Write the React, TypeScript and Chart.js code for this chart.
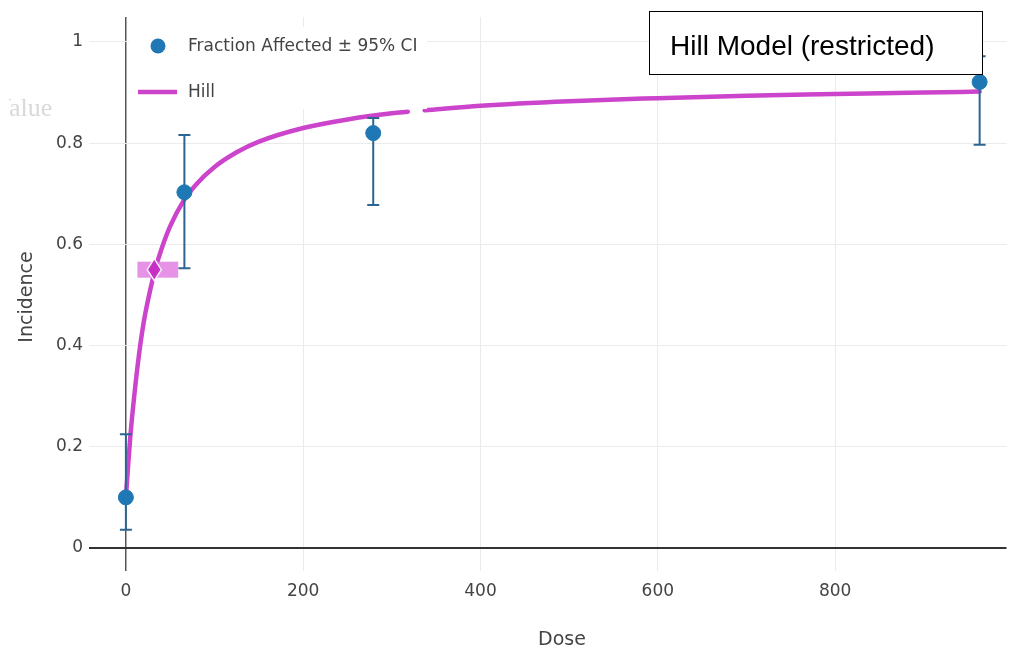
import React, { useEffect, useRef } from "react";
import { Chart, registerables } from "chart.js";

Chart.register(...registerables);

// Observed data (fraction affected ± 95% CI)
const obsDose = [0, 66, 279, 963];
const obsFrac = [0.1, 0.703, 0.82, 0.921];
const obsLower = [0.036, 0.553, 0.678, 0.797];
const obsUpper = [0.225, 0.816, 0.85, 0.972];

// Hill model fit curve (null = visible gap)
const hillDose = [0, 2, 5, 10, 15, 20, 25, 33, 40, 50, 65, 80, 100, 125, 150, 200, 250, 300, 318, 327, 337, 400, 500, 600, 700, 800, 900, 963];
const hillFit = [0.1, 0.15, 0.22, 0.31, 0.385, 0.445, 0.49, 0.55, 0.59, 0.636, 0.686, 0.72, 0.753, 0.782, 0.803, 0.83, 0.847, 0.859, 0.862, null, 0.865, 0.874, 0.883, 0.889, 0.894, 0.897, 0.9, 0.902];

// Benchmark dose marker
const bmdDose = [32];
const bmdLowerDose = [13];
const bmdUpperDose = [59];
const bmdResponse = [0.55];

const xTicks = [0, 200, 400, 600, 800];
const xTickLabels = ["0", "200", "400", "600", "800"];
const yTicks = [0, 0.2, 0.4, 0.6, 0.8, 1];
const yTickLabels = ["0", "0.2", "0.4", "0.6", "0.8", "1"];

const legendLabels = ["Fraction Affected \u00b1 95% CI", "Hill"];
const titleText = "Hill Model (restricted)";
const xTitle = "Dose";
const yTitle = "Incidence";
const ghostText = "Value";

const BLUE = "#1f77b4";
const ERR = "#2c6592";
const MAGENTA = "#cc44cc";
const FONT = "'DejaVu Sans', Verdana, sans-serif";

const overlayPlugin = {
  id: "overlay",
  afterDatasetDraw(chart: any, args: any) {
    if (args.index !== 1) return;
    const xs = chart.scales.x;
    const ys = chart.scales.y;
    const ctx = chart.ctx;
    ctx.save();
    ctx.strokeStyle = ERR;
    ctx.lineWidth = 2;
    obsDose.forEach((d, i) => {
      const px = xs.getPixelForValue(d);
      const top = ys.getPixelForValue(obsUpper[i]);
      const bot = ys.getPixelForValue(obsLower[i]);
      ctx.beginPath();
      ctx.moveTo(px, top);
      ctx.lineTo(px, bot);
      ctx.moveTo(px - 6, top);
      ctx.lineTo(px + 6, top);
      ctx.moveTo(px - 6, bot);
      ctx.lineTo(px + 6, bot);
      ctx.stroke();
    });
    ctx.restore();
  },
  afterDatasetsDraw(chart: any) {
    const xs = chart.scales.x;
    const ys = chart.scales.y;
    const ctx = chart.ctx;
    ctx.save();
    bmdDose.forEach((d, i) => {
      const y = ys.getPixelForValue(bmdResponse[i]);
      const xl = xs.getPixelForValue(bmdLowerDose[i]);
      const xu = xs.getPixelForValue(bmdUpperDose[i]);
      const xc = xs.getPixelForValue(d);
      ctx.fillStyle = "rgba(222, 110, 222, 0.75)";
      ctx.fillRect(xl, y - 8, xu - xl, 16);
      ctx.beginPath();
      ctx.moveTo(xc, y - 11);
      ctx.lineTo(xc + 7, y);
      ctx.lineTo(xc, y + 11);
      ctx.lineTo(xc - 7, y);
      ctx.closePath();
      ctx.fillStyle = "#c630c6";
      ctx.fill();
      ctx.strokeStyle = "rgba(255,255,255,0.9)";
      ctx.lineWidth = 1.5;
      ctx.stroke();
    });
    ctx.restore();
  },
  afterDraw(chart: any) {
    const ctx = chart.ctx;
    const area = chart.chartArea;
    ctx.save();
    // ghost text at left edge (clipped)
    ctx.save();
    ctx.beginPath();
    ctx.rect(9, 80, 60, 50);
    ctx.clip();
    ctx.font = "26px 'Liberation Serif', serif";
    ctx.fillStyle = "#d9d9d9";
    ctx.textBaseline = "alphabetic";
    ctx.textAlign = "left";
    ctx.fillText(ghostText, -7, 116);
    ctx.restore();

    // legend
    ctx.fillStyle = "#ffffff";
    ctx.fillRect(area.left + 40, 27, 298, 82);
    ctx.beginPath();
    ctx.arc(158, 46, 7.5, 0, Math.PI * 2);
    ctx.fillStyle = BLUE;
    ctx.fill();
    ctx.strokeStyle = MAGENTA;
    ctx.lineWidth = 4.5;
    ctx.beginPath();
    ctx.moveTo(138, 92);
    ctx.lineTo(177, 92);
    ctx.stroke();
    ctx.fillStyle = "#444";
    ctx.font = "17px " + FONT;
    ctx.textBaseline = "middle";
    ctx.fillText(legendLabels[0], 188, 47);
    ctx.fillText(legendLabels[1], 188, 93);

    // axis titles
    ctx.font = "19px " + FONT;
    ctx.textAlign = "center";
    ctx.fillText(xTitle, 562, 640);
    ctx.save();
    ctx.translate(27, 297);
    ctx.rotate(-Math.PI / 2);
    ctx.fillText(yTitle, 0, 0);
    ctx.restore();

    // title box
    ctx.fillStyle = "#ffffff";
    ctx.fillRect(649.5, 11.5, 333, 63);
    ctx.strokeStyle = "#000";
    ctx.lineWidth = 1;
    ctx.strokeRect(649.5, 11.5, 333, 63);
    ctx.fillStyle = "#000";
    ctx.font = "28px 'Liberation Sans', Arial, sans-serif";
    ctx.textAlign = "left";
    ctx.textBaseline = "alphabetic";
    ctx.fillText(titleText, 670, 55);
    ctx.restore();
  },
};

export default function App() {
  const canvasRef = useRef<HTMLCanvasElement | null>(null);

  useEffect(() => {
    document.body.style.margin = "0";
    const canvas = canvasRef.current;
    if (!canvas) return;

    const hillData = hillDose.map((d, i) => ({ x: d, y: hillFit[i] }));
    const obsData = obsDose.map((d, i) => ({ x: d, y: obsFrac[i] }));

    const chart = new Chart(canvas, {
      type: "scatter",
      data: {
        datasets: [
          {
            label: legendLabels[0],
            data: obsData,
            backgroundColor: BLUE,
            borderColor: BLUE,
            pointRadius: 7.5,
            pointHoverRadius: 7.5,
            showLine: false,
          },
          {
            label: legendLabels[1],
            data: hillData as any,
            showLine: true,
            borderColor: MAGENTA,
            borderWidth: 4.5,
            pointRadius: 0,
            spanGaps: false,
            cubicInterpolationMode: "monotone",
            borderCapStyle: "round",
          },
        ],
      },
      options: {
        responsive: false,
        animation: false,
        devicePixelRatio: 1,
        layout: { padding: { top: 17, right: 5, left: 0, bottom: 0 } },
        plugins: {
          legend: { display: false },
          tooltip: { enabled: false },
          title: { display: false },
        },
        scales: {
          x: {
            type: "linear",
            min: -41.6,
            max: 993.3,
            afterFit: (scale: any) => {
              scale.height = 81;
            },
            afterBuildTicks: (scale: any) => {
              scale.ticks = xTicks.map((v) => ({ value: v }));
            },
            border: { display: false },
            grid: {
              drawTicks: false,
              color: (c: any) => (c.tick && c.tick.value === 0 ? "#555" : "#ebebeb"),
              lineWidth: (c: any) => (c.tick && c.tick.value === 0 ? 1.5 : 1),
            },
            ticks: {
              padding: 10,
              color: "#444",
              font: { family: FONT, size: 17 },
              maxRotation: 0,
              callback: (v: any) => {
                const i = xTicks.indexOf(Number(v));
                return i >= 0 ? xTickLabels[i] : "";
              },
            },
          },
          y: {
            type: "linear",
            min: -0.0455,
            max: 1.0494,
            afterFit: (scale: any) => {
              scale.width = 89;
            },
            afterBuildTicks: (scale: any) => {
              scale.ticks = yTicks.map((v) => ({ value: v }));
            },
            border: { display: false },
            grid: {
              drawTicks: false,
              color: (c: any) => (c.tick && c.tick.value === 0 ? "#333" : "#ebebeb"),
              lineWidth: (c: any) => (c.tick && c.tick.value === 0 ? 2 : 1),
            },
            ticks: {
              padding: 6,
              color: "#444",
              font: { family: FONT, size: 17 },
              callback: (v: any) => {
                const i = yTicks.findIndex((t) => Math.abs(t - Number(v)) < 1e-9);
                return i >= 0 ? yTickLabels[i] : "";
              },
            },
          },
        },
      },
      plugins: [overlayPlugin],
    });

    return () => {
      chart.destroy();
    };
  }, []);

  return (
    <div style={{ position: "fixed", left: 0, top: 0, width: 1015, height: 652, background: "#fff" }}>
      <canvas ref={canvasRef} width={1015} height={652} style={{ width: 1015, height: 652, display: "block" }} />
    </div>
  );
}
